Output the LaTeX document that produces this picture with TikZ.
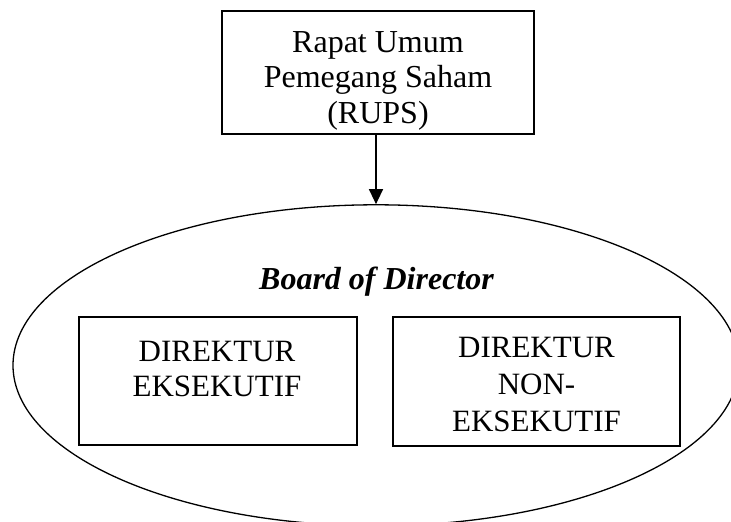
\documentclass[tikz,border=0pt]{standalone}
\usepackage{fontspec}
\setmainfont{Liberation Serif}
\usetikzlibrary{shapes.geometric,arrows.meta}
\begin{document}
\begin{tikzpicture}[x=1pt,y=-1pt,
  box/.style={draw,line width=1.3pt,inner sep=0pt,rectangle},
  lbl/.style={align=center,anchor=base,inner sep=0pt}]
\useasboundingbox (0,0) rectangle (731,522);
\begin{scope}
\clip (0,0) rectangle (731,522);
\node[draw,ellipse,line width=1.3pt,minimum width=726pt,minimum height=321pt,inner sep=0pt] (bod) at (376,365.3) {};
\end{scope}
\node[box,minimum width=312pt,minimum height=123pt] (rups) at (378,72.5) {};
\node[box,minimum width=278pt,minimum height=128pt] (exe) at (218,381) {};
\node[box,minimum width=287pt,minimum height=129pt] (nonexe) at (536.5,381.5) {};
\node[lbl,font=\fontsize{32}{35.5}\selectfont] (rupstext) at (378,123) {Rapat Umum\\Pemegang Saham\\(RUPS)};
\node[lbl,font=\fontsize{32}{36}\selectfont\bfseries\itshape] (bodtext) at (376.5,289) {Board of Director};
\node[lbl,font=\fontsize{31}{35.7}\selectfont] (exetext) at (217,396.7) {DIREKTUR\\EKSEKUTIF};
\node[lbl,font=\fontsize{31}{37}\selectfont] (nonexetext) at (536.5,431) {DIREKTUR\\NON-\\EKSEKUTIF};
\draw[line width=1.3pt,-{Triangle[length=15pt,width=14pt]}] (rups.south -| bod.north) -- (bod.north);
\end{tikzpicture}
\end{document}
